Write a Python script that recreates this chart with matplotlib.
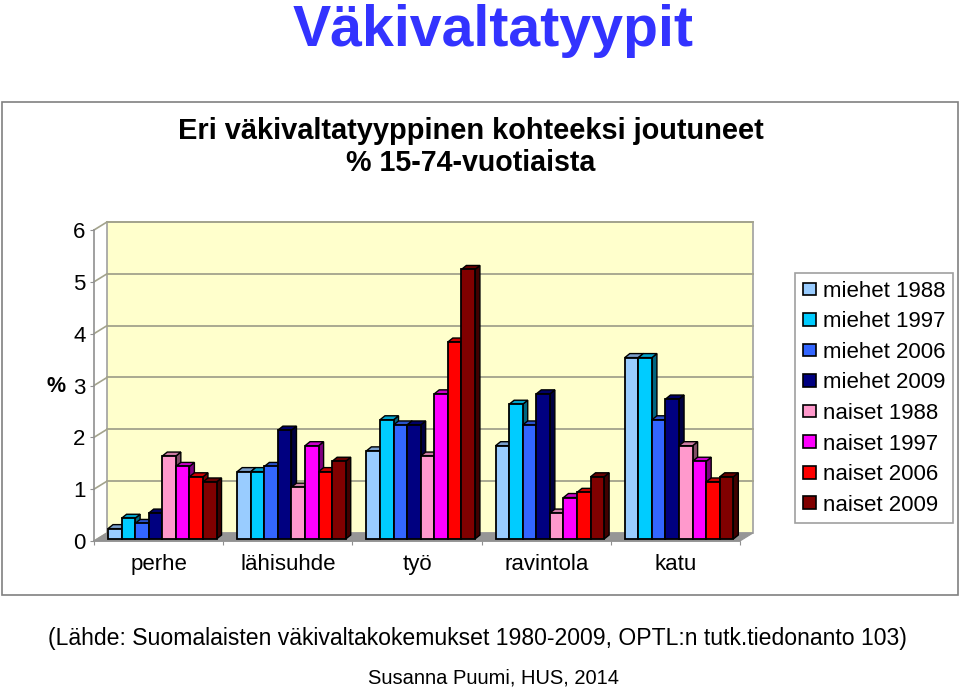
import matplotlib
matplotlib.use("Agg")
import matplotlib.pyplot as plt
from matplotlib.patches import Rectangle, Patch

plt.rcParams['font.family'] = ['Liberation Sans', 'DejaVu Sans']

categories = ['perhe', 'lähisuhde', 'työ', 'ravintola', 'katu']
series_names = ['miehet 1988', 'miehet 1997', 'miehet 2006', 'miehet 2009',
                'naiset 1988', 'naiset 1997', 'naiset 2006', 'naiset 2009']
miehet_1988 = [0.2, 1.3, 1.7, 1.8, 3.5]
miehet_1997 = [0.4, 1.3, 2.3, 2.6, 3.5]
miehet_2006 = [0.3, 1.4, 2.2, 2.2, 2.3]
miehet_2009 = [0.5, 2.1, 2.2, 2.8, 2.7]
naiset_1988 = [1.6, 1.0, 1.6, 0.5, 1.8]
naiset_1997 = [1.4, 1.8, 2.8, 0.8, 1.5]
naiset_2006 = [1.2, 1.3, 3.8, 0.9, 1.1]
naiset_2009 = [1.1, 1.5, 5.2, 1.2, 1.2]
series = [miehet_1988, miehet_1997, miehet_2006, miehet_2009,
          naiset_1988, naiset_1997, naiset_2006, naiset_2009]
y_ticks = [0, 1, 2, 3, 4, 5, 6]

colors = ['#99CCFF', '#00CCFF', '#3366FF', '#000080',
          '#FF99CC', '#FF00FF', '#FF0000', '#800000']
sides = ['#4D6680', '#006680', '#1A3380', '#000040',
         '#804D66', '#800080', '#800000', '#400000']
tops = ['#7A9FCC', '#00A3CC', '#2952CC', '#000066',
        '#CC7AA3', '#CC00CC', '#CC0000', '#660000']

W, H = 960, 692
fig = plt.figure(figsize=(W / 100, H / 100), dpi=100)

# page axes in pixels, for the frame and the free texts
page = fig.add_axes([0, 0, 1, 1])
page.set_xlim(0, W)
page.set_ylim(H, 0)
page.axis('off')
page.add_patch(Rectangle((2, 102), 956, 493, fc='white', ec='#808080', lw=1.2))
page.text(493, 46, 'Väkivaltatyypit', color='#3333FF', fontsize=41.2, fontweight='bold',
          ha='center', va='baseline')
page.text(471, 131, 'Eri väkivaltatyyppinen kohteeksi joutuneet', fontsize=20.9,
          fontweight='bold', ha='center', va='center')
page.text(471, 163, '% 15-74-vuotiaista', fontsize=20.6, fontweight='bold',
          ha='center', va='center')
page.text(56, 386, '%', fontsize=15.5, fontweight='bold', ha='center', va='center')
page.text(477, 638, '(Lähde: Suomalaisten väkivaltakokemukset 1980-2009, OPTL:n tutk.tiedonanto 103)',
          fontsize=16.6, ha='center', va='center')
page.text(493, 678, 'Susanna Puumi, HUS, 2014', fontsize=14.5, ha='center', va='center')

# front plane of the fake 3D box
ax = fig.add_axes([94 / W, 1 - 541 / H, 646 / W, 311 / H])
ax.patch.set_alpha(0)
ax.set_xlim(0, len(categories))
ax.set_ylim(0, 6)

wall_dx = 13 / 129.2
wall_dy = 8 / 51.8
n_cat = len(categories)
grid = '#A3A38C'

# back wall and floor
ax.fill([wall_dx, n_cat + wall_dx, n_cat + wall_dx, wall_dx],
        [wall_dy, wall_dy, 6 + wall_dy, 6 + wall_dy],
        fc='#FFFFCC', ec='#A0A0A0', lw=1.2, clip_on=False, zorder=1)
ax.fill([0, n_cat, n_cat + wall_dx, wall_dx], [0, 0, wall_dy, wall_dy],
        fc='#969696', ec='#969696', lw=0.8, clip_on=False, zorder=1.5)
for t in y_ticks:
    if t > 0:
        ax.plot([wall_dx, n_cat + wall_dx], [t + wall_dy, t + wall_dy], color=grid,
                lw=1.3, clip_on=False, zorder=1.2)
    ax.plot([0, wall_dx], [t, t + wall_dy], color=grid, lw=1.2, clip_on=False, zorder=1.2)

# bars
bar_w = 0.105
depth_x = 5 / 129.2
depth_y = 4 / 51.8
base_y = 2 / 51.8
start = 14 / 129.2
z = 3
for c in range(n_cat):
    for s, vals in enumerate(series):
        x0 = c + start + s * bar_w
        x1 = x0 + bar_w
        v = vals[c] + base_y
        ax.fill([x1, x1 + depth_x, x1 + depth_x, x1],
                [base_y, base_y + depth_y, v + depth_y, v],
                fc=sides[s], ec='black', lw=1, clip_on=False, zorder=z)
        ax.fill([x0, x1, x1 + depth_x, x0 + depth_x],
                [v, v, v + depth_y, v + depth_y],
                fc=tops[s], ec='black', lw=1, clip_on=False, zorder=z)
        ax.bar(x0, vals[c], bar_w, bottom=base_y, align='edge', color=colors[s],
               edgecolor='black', lw=1.3, clip_on=False, zorder=z + 0.5)
        z += 1

for name in ['top', 'right']:
    ax.spines[name].set_visible(False)
for name in ['left', 'bottom']:
    ax.spines[name].set_color('#909090')
    ax.spines[name].set_linewidth(1.2)
ax.set_yticks(y_ticks)
ax.set_xticks(range(n_cat + 1))
ax.set_xticklabels([])
ax.set_xticks([c + 0.5 for c in range(n_cat)], categories, minor=True)
ax.tick_params(axis='x', which='major', length=3, color='#909090')
ax.tick_params(axis='x', which='minor', length=0, pad=21, labelsize=16)
ax.tick_params(axis='y', length=3, color='#909090', labelsize=16, pad=3)
for label in ax.get_xticklabels(minor=True):
    label.set_verticalalignment('baseline')

handles = [Patch(fc=colors[i], ec='black', lw=1.2, label=series_names[i]) for i in range(8)]
page.set_zorder(0)
ax.set_zorder(1)
leg = page.legend(handles=handles, loc='upper left', bbox_to_anchor=(795 / W, 1 - 273 / H),
                  bbox_transform=fig.transFigure, fontsize=16, frameon=True, fancybox=False,
                  edgecolor='#A0A0A0', framealpha=1, borderaxespad=0, borderpad=0.35,
                  handlelength=0.59, handleheight=0.5, handletextpad=0.3, labelspacing=0.43)
leg.get_frame().set_linewidth(1.2)

fig.savefig('out.png', dpi=100)
